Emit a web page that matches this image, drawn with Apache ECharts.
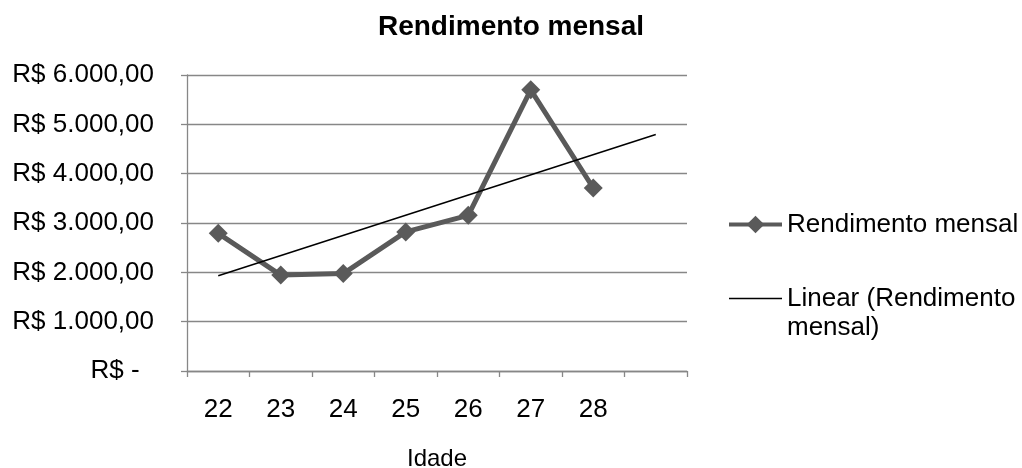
<!DOCTYPE html>
<html>
<head>
<meta charset="utf-8">
<script src="https://cdn.jsdelivr.net/npm/echarts@6/dist/echarts.min.js"></script>
<style>
  html, body { margin: 0; padding: 0; background: #fff; }
  #chart { width: 1022px; height: 468px; }
</style>
</head>
<body>
<div id="chart"></div>
<script>
// Ages on the category axis; the last slot is left open for the trend forecast.
const idades = ['22', '23', '24', '25', '26', '27', '28', ''];
// Monthly income per age (R$).
const rendimento = [2790, 1945, 1975, 2820, 3155, 5700, 3710];
// Value-axis tick labels, one per 1.000 step.
const yTickLabels = ['R$ -  ', 'R$ 1.000,00', 'R$ 2.000,00', 'R$ 3.000,00',
                     'R$ 4.000,00', 'R$ 5.000,00', 'R$ 6.000,00'];

// Least-squares linear trend over the observed points, extended one period forward.
function linearTrend(values, forward) {
  const n = values.length;
  let sx = 0, sy = 0, sxy = 0, sxx = 0;
  values.forEach((y, i) => { sx += i; sy += y; sxy += i * y; sxx += i * i; });
  const slope = (n * sxy - sx * sy) / (n * sxx - sx * sx);
  const intercept = (sy - slope * sx) / n;
  const last = n - 1 + forward;
  return [[0, intercept], [last, intercept + slope * last]];
}
const tendencia = linearTrend(rendimento, 1);

const FONT = '"Liberation Sans", Arial, sans-serif';
const GRID_GRAY = '#878787';
const SERIES_GRAY = '#5a5a5a';

const chart = echarts.init(document.getElementById('chart'));
chart.setOption({
  animation: false,
  backgroundColor: '#ffffff',
  title: {
    text: 'Rendimento mensal',
    left: 'center',
    top: 8,
    textStyle: { fontFamily: FONT, fontSize: 28, fontWeight: 'bold', color: '#000' }
  },
  grid: { left: 187, right: 335, top: 75, bottom: 97, containLabel: false, outerBoundsMode: 'none' },
  legend: {
    orient: 'vertical',
    left: 722,
    top: 205,
    itemWidth: 53,
    itemHeight: 22,
    itemGap: 16,
    textStyle: { fontFamily: FONT, fontSize: 26, lineHeight: 29, color: '#000' },
    data: [
      {
        name: 'Rendimento mensal',
        lineStyle: { color: SERIES_GRAY, width: 4 },
        itemStyle: { color: SERIES_GRAY }
      },
      {
        name: 'Linear (Rendimento mensal)',
        lineStyle: { color: '#000', width: 1.5 },
        itemStyle: { opacity: 0 }
      }
    ],
    formatter: function (name) {
      // the blank first line keeps the key line level with "Linear (Rendimento"
      return name === 'Linear (Rendimento mensal)' ? '\nLinear (Rendimento\nmensal)' : name;
    }
  },
  xAxis: {
    type: 'category',
    data: idades,
    boundaryGap: true,
    name: 'Idade',
    nameLocation: 'middle',
    nameGap: 76,
    nameTextStyle: { fontFamily: FONT, fontSize: 24, color: '#000' },
    axisLine: { lineStyle: { color: GRID_GRAY, width: 1.3 } },
    axisTick: { show: true, length: 6, inside: false, lineStyle: { color: GRID_GRAY, width: 1.3 } },
    axisLabel: { interval: 0, margin: 26, fontFamily: FONT, fontSize: 26, color: '#000' },
    splitLine: { show: false }
  },
  yAxis: {
    type: 'value',
    min: 0,
    max: 6000,
    interval: 1000,
    axisLine: { show: true, lineStyle: { color: GRID_GRAY, width: 1.3 } },
    axisTick: { show: true, length: 6, lineStyle: { color: GRID_GRAY, width: 1.3 } },
    axisLabel: {
      margin: 33,
      fontFamily: FONT,
      fontSize: 26,
      color: '#000',
      formatter: function (v) { return yTickLabels[Math.round(v / 1000)]; }
    },
    splitLine: { show: true, lineStyle: { color: GRID_GRAY, width: 1.3 } }
  },
  series: [
    {
      name: 'Rendimento mensal',
      type: 'line',
      data: rendimento,
      symbol: 'diamond',
      symbolSize: 19,
      lineStyle: { color: SERIES_GRAY, width: 5 },
      itemStyle: { color: SERIES_GRAY },
      z: 3
    },
    {
      name: 'Linear (Rendimento mensal)',
      type: 'line',
      data: tendencia,
      symbol: 'none',
      lineStyle: { color: '#000', width: 1.5 },
      itemStyle: { color: '#000' },
      z: 4
    }
  ]
});
</script>
</body>
</html>
